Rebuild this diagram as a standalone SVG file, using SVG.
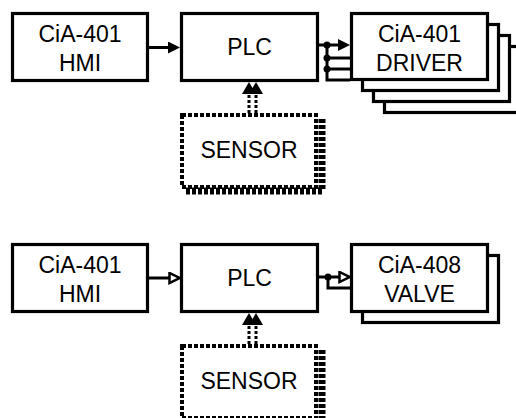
<svg xmlns="http://www.w3.org/2000/svg" width="516" height="418" viewBox="0 0 516 418">
<style>
.box{fill:#fff;stroke:#000;stroke-width:3.2}
.txt{font-family:"Liberation Sans",Arial,sans-serif;font-size:23px;fill:#000;text-anchor:middle}
.ln{fill:none;stroke:#000;stroke-width:3}
.dl{fill:none;stroke:#000;stroke-width:3;stroke-dasharray:3 2}
.sens{fill:#fff;stroke:#000;stroke-width:4;stroke-dasharray:4 2}
.shad{fill:none;stroke:#000;stroke-width:7;stroke-dasharray:4 2}
</style>
<defs>
<marker id="af" markerUnits="userSpaceOnUse" markerWidth="12" markerHeight="12" refX="6" refY="6" orient="auto" viewBox="0 0 12 12">
<path d="M0,0 L12,6 L0,12 z" fill="#000"/>
</marker>
<marker id="as" markerUnits="userSpaceOnUse" markerWidth="12" markerHeight="14" refX="6" refY="7" orient="auto" viewBox="0 0 12 14">
<path d="M0,0 L12,7 L0,14 z" fill="#000"/>
</marker>
<marker id="ah" markerUnits="userSpaceOnUse" markerWidth="13" markerHeight="13" refX="6" refY="6.5" orient="auto" viewBox="0 0 13 13">
<path d="M1.5,1.5 L11.5,6.5 L1.5,11.5 z" fill="#fff" stroke="#000" stroke-width="2.5"/>
</marker>
</defs>

<g id="connectors">
<line class="ln" x1="149" y1="47.5" x2="174" y2="47.5" marker-end="url(#af)"/>
<line class="ln" x1="319" y1="45" x2="344" y2="45" marker-end="url(#af)"/>
<polyline class="ln" points="327,45 327,80 350,80"/>
<line class="ln" x1="327" y1="58" x2="350" y2="58"/>
<line class="ln" x1="327" y1="69" x2="350" y2="69"/>
<circle cx="327" cy="45" r="3.5"/>
<circle cx="327" cy="58" r="3.5"/>
<circle cx="327" cy="69" r="3.5"/>
<line class="dl" x1="249" y1="113" x2="249" y2="88" marker-end="url(#as)"/>
<line class="dl" x1="256" y1="113" x2="256" y2="88" marker-end="url(#as)"/>

<line class="ln" x1="149" y1="278" x2="174" y2="278" marker-end="url(#ah)"/>
<line class="ln" x1="319" y1="277" x2="344" y2="277" marker-end="url(#ah)"/>
<polyline class="ln" points="328,277 328,288 350,288"/>
<circle cx="328" cy="277" r="3.5"/>
<line class="dl" x1="249" y1="344" x2="249" y2="319" marker-end="url(#as)"/>
<line class="dl" x1="256" y1="344" x2="256" y2="319" marker-end="url(#as)"/>
</g>

<g id="hmi1">
<rect class="box" x="12.5" y="13.5" width="135" height="67"/>
<text class="txt" x="80" y="42">CiA-401</text>
<text class="txt" x="80" y="70.5">HMI</text>
</g>
<g id="plc1">
<rect class="box" x="181.5" y="13.5" width="136" height="67"/>
<text class="txt" x="249.5" y="55">PLC</text>
</g>
<g id="driver">
<rect class="box" x="384.5" y="46.5" width="136" height="66"/>
<rect class="box" x="373.5" y="35.5" width="136" height="66"/>
<rect class="box" x="362.5" y="24.5" width="136" height="66"/>
<rect class="box" x="351.5" y="13.5" width="136" height="66"/>
<text class="txt" x="419.5" y="42">CiA-401</text>
<text class="txt" x="419.5" y="70.5">DRIVER</text>
</g>
<g id="sensor1">
<path class="shad" d="M322,119 V191 H186"/>
<rect class="sens" x="182" y="115" width="134" height="72"/>
<text class="txt" x="249" y="158">SENSOR</text>
</g>

<g id="hmi2">
<rect class="box" x="12.5" y="244.5" width="135" height="67"/>
<text class="txt" x="80" y="273">CiA-401</text>
<text class="txt" x="80" y="301.5">HMI</text>
</g>
<g id="plc2">
<rect class="box" x="181.5" y="244.5" width="136" height="67"/>
<text class="txt" x="249.5" y="286">PLC</text>
</g>
<g id="valve">
<rect class="box" x="362.5" y="255.5" width="136" height="67"/>
<rect class="box" x="351.5" y="244.5" width="136" height="67"/>
<text class="txt" x="419.5" y="273">CiA-408</text>
<text class="txt" x="419.5" y="301.5">VALVE</text>
</g>
<g id="sensor2">
<path class="shad" d="M322,350 V422 H186"/>
<rect class="sens" x="182" y="346" width="134" height="72"/>
<text class="txt" x="249" y="389">SENSOR</text>
</g>
</svg>
